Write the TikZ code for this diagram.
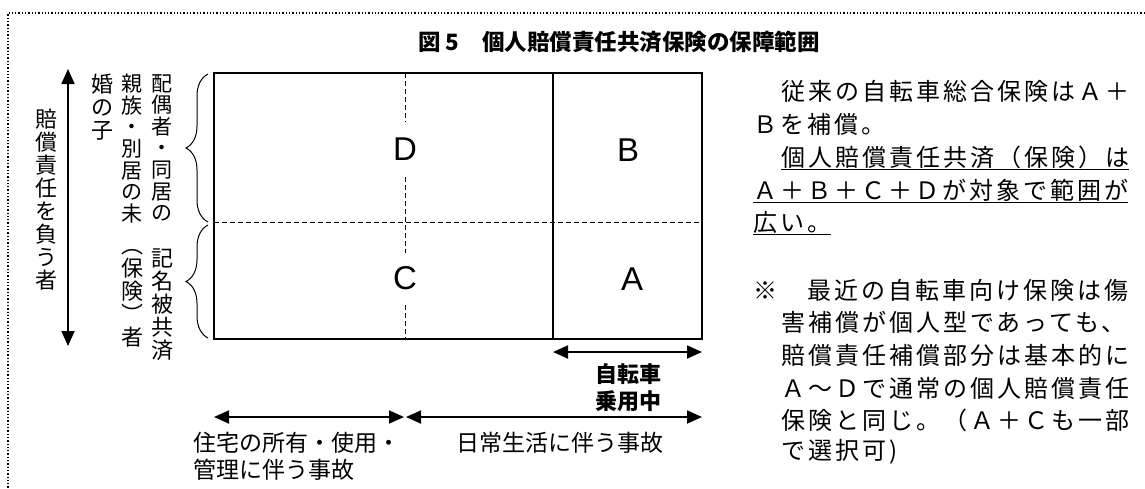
\documentclass[tikz,border=0pt]{standalone}
\usepackage{fontspec}
\setmainfont{Liberation Sans}
\newfontfamily\jp{Noto Sans CJK JP}
\newfontfamily\jpsp[LetterSpace=12.5]{Noto Sans CJK JP}
\usetikzlibrary{arrows.meta,decorations.pathreplacing}
\begin{document}
\begin{tikzpicture}[x=1pt,y=-1pt,
  frame/.style={line width=1.6pt},
  divline/.style={line width=1.3pt},
  dashline/.style={line width=0.9pt, dash pattern=on 5pt off 3pt},
  border/.style={line width=1.3pt, dash pattern=on 1.3pt off 2pt},
  dbl/.style={line width=1.8pt, {Triangle[length=15pt,width=13pt]}-{Triangle[length=15pt,width=13pt]}},
  brc/.style={line width=1pt, decorate, decoration={brace, amplitude=22pt, aspect=0.5}},
  letter/.style={inner sep=0pt, font=\fontsize{33}{33}\selectfont},
  vtext/.style={inner sep=0pt, align=center, anchor=north, font=\jp\fontsize{22}{23}\selectfont},
  vtight/.style={vtext, font=\jp\fontsize{21}{21.6}\selectfont},
  btext/.style={inner sep=0pt, anchor=west, font=\jp\fontsize{23}{27}\selectfont},
  bold/.style={inner sep=0pt, font=\jp\bfseries\fontsize{22}{27}\selectfont},
  rtext/.style={inner sep=0pt, anchor=west, font=\jpsp\fontsize{24}{30}\selectfont},
  uline/.style={line width=1.5pt},
  titlestyle/.style={inner sep=0pt, font=\jp\bfseries\fontsize{22.5}{27}\selectfont}]
\useasboundingbox (0,0) rectangle (1145,488);
% dotted border (top and left)
\coordinate (bTR) at (1145,13);
\coordinate (bTL) at (8,13);
\coordinate (bBL) at (8,488);
\draw[border] (bTR) -- (bTL) -- (bBL);
% title
\node[titlestyle] (title) at (619,42) {図 5　個人賠償責任共済保険の保障範囲};
% main frame
\coordinate (tl) at (214,73);
\coordinate (br) at (702,339);
\coordinate (dt) at (553,73);
\coordinate (db) at (553,339);
\coordinate (hl) at (214,222);
\coordinate (hr) at (702,222);
\coordinate (vt) at (405,73);
\coordinate (vb) at (405,339);
\draw[dashline] (hl) -- (hr);
\draw[dashline] (vt) -- (vb);
\draw[divline] (dt) -- (db);
\draw[frame] (tl) rectangle (br);
% letters
\node[letter, fill=white, minimum height=54pt, minimum width=26pt] (D) at (405,149) {D};
\node[letter, fill=white, minimum height=50pt, minimum width=26pt] (C) at (405,278) {C};
\node[letter] (B) at (628,150) {B};
\node[letter] (A) at (632,279) {A};
% left vertical arrow and label
\coordinate (va) at (68,69);
\coordinate (vz) at (68,346);
\draw[dbl] (va) -- (vz);
\node[vtext, anchor=center] (resp) at (46,200) {賠\\償\\責\\任\\を\\負\\う\\者};
% upper group columns
\node[vtight] (u1) at (162,74) {配\\偶\\者\\・\\同\\居\\の};
\node[vtight] (u2) at (132,74) {親\\族\\・\\別\\居\\の\\未};
\node[vtext] (u3) at (102,74) {婚\\の\\子};
% lower group columns
\node[vtext] (w1) at (162,249) {記\\名\\被\\共\\済};
\node[vtext] (w2) at (132,249) {︵\\保\\険\\︶\\者};
% braces
\coordinate (ub1) at (208,222);
\coordinate (ub2) at (208,74);
\coordinate (lb1) at (208,338);
\coordinate (lb2) at (208,225);
\draw[brc] (ub1) -- (ub2);
\draw[brc] (lb1) -- (lb2);
% bicycle arrow
\coordinate (ca) at (553,352);
\coordinate (cb) at (702,352);
\draw[dbl] (ca) -- (cb);
\node[bold] (bike1) at (628,374) {自転車};
\node[bold] (bike2) at (628,401) {乗用中};
% bottom arrows
\coordinate (ba) at (214,417);
\coordinate (bm1) at (404,417);
\coordinate (bm2) at (406,417);
\coordinate (bb) at (702,417);
\draw[dbl] (ba) -- (bm1);
\draw[dbl] (bm2) -- (bb);
\node[btext] (house1) at (193,443) {住宅の所有・使用・};
\node[btext] (house2) at (193,470) {管理に伴う事故};
\node[btext] (daily) at (456,443) {日常生活に伴う事故};
% right text
\node[rtext] (l1) at (781,91) {従来の自転車総合保険はＡ＋};
\node[rtext] (l2) at (753,124) {Ｂを補償。};
\node[rtext] (l3) at (781,157) {個人賠償責任共済（保険）は};
\node[rtext] (l4) at (753,190) {Ａ＋Ｂ＋Ｃ＋Ｄが対象で範囲が};
\node[rtext] (l5) at (753,222) {広い。};
\draw[uline] ([yshift=-1pt]l3.south west) -- ([yshift=-1pt]l3.south east);
\draw[uline] ([yshift=-1pt]l4.south west) -- ([yshift=-1pt]l4.south east);
\draw[uline] ([yshift=-1pt]l5.south west) -- ([yshift=-1pt]l5.south east);
\node[rtext] (m1) at (753,290) {※　最近の自転車向け保険は傷};
\node[rtext] (m2) at (781,322) {害補償が個人型であっても、};
\node[rtext] (m3) at (781,355) {賠償責任補償部分は基本的に};
\node[rtext] (m4) at (781,388) {Ａ～Ｄで通常の個人賠償責任};
\node[rtext] (m5) at (781,420) {保険と同じ。（Ａ＋Ｃも一部};
\node[rtext] (m6) at (781,452) {で選択可)};
\end{tikzpicture}
\end{document}
